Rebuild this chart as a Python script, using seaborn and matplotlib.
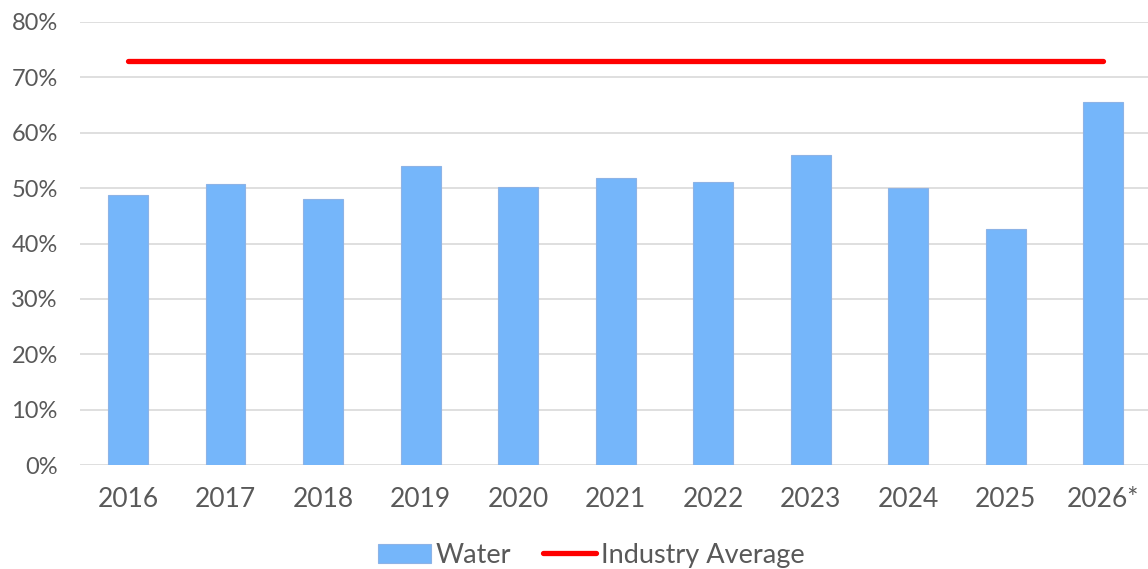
import matplotlib
matplotlib.use("Agg")
import matplotlib.pyplot as plt
import seaborn as sns
import numpy as np
import pandas as pd
from matplotlib.ticker import PercentFormatter

years = ["2016", "2017", "2018", "2019", "2020", "2021", "2022", "2023", "2024", "2025", "2026*"]
water = [0.487, 0.507, 0.481, 0.540, 0.502, 0.519, 0.511, 0.559, 0.500, 0.427, 0.655]
industry_avg = [0.73] * len(years)
y_ticks = [0.0, 0.1, 0.2, 0.3, 0.4, 0.5, 0.6, 0.7, 0.8]

sns.set_theme(style="white")
plt.rcParams["font.family"] = ["Lato", "DejaVu Sans"]

text_color = "#595959"
fig = plt.figure(figsize=(11.48, 5.69), dpi=100)
W, H = 1148, 569
ax = fig.add_axes([80 / W, 1 - 465 / H, (1148 - 80) / W, (465 - 22) / H])

df = pd.DataFrame({"year": years, "water": water})
sns.barplot(data=df, x="year", y="water", color="#75B6FA", saturation=1,
            width=0.41, edgecolor="#8DB3E6", linewidth=0.8, label="Water", ax=ax, zorder=3)
sns.lineplot(x=np.arange(len(years)), y=industry_avg, color="#FF0000", linewidth=3.8,
             solid_capstyle="round", label="Industry Average", ax=ax, zorder=4)

ax.set_ylim(0, 0.8)
ax.set_xlim(-0.492, 10.46)
ax.set_yticks(y_ticks)
ax.yaxis.set_major_formatter(PercentFormatter(1.0, decimals=0))
ax.set_xticks(np.arange(len(years)))
ax.set_xticklabels(years)
ax.grid(axis="y", color="#D9D9D9", linewidth=1.2, zorder=0)
ax.set_axisbelow(True)
for s in ax.spines.values():
    s.set_visible(False)
ax.set_xlabel("")
ax.set_ylabel("")
ax.tick_params(axis="y", labelsize=17, colors=text_color, length=0, pad=16)
ax.tick_params(axis="x", labelsize=19, colors=text_color, length=0, pad=16)

handles, labels = ax.get_legend_handles_labels()
order = [labels.index("Water"), labels.index("Industry Average")]
handles = [handles[i] for i in order]
labels = [labels[i] for i in order]
if ax.get_legend() is not None:
    ax.get_legend().remove()
leg = fig.legend(handles, labels, loc="center", bbox_to_anchor=(0.515, 0.024), ncol=2,
                 frameon=False, fontsize=19.5, handlelength=1.93, handletextpad=0.18,
                 columnspacing=1.2, borderaxespad=0)
for t in leg.get_texts():
    t.set_color(text_color)

fig.savefig("out.png", dpi=100)
